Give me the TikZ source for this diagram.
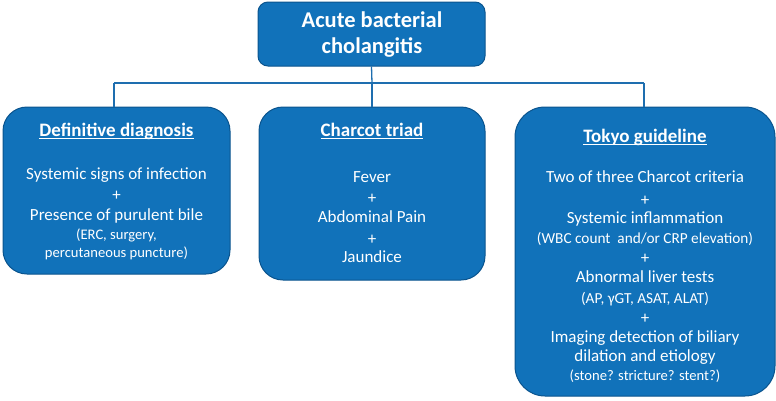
\documentclass[tikz,border=0pt]{standalone}
\usepackage{fontspec}
\setmainfont{Carlito}
\definecolor{boxblue}{RGB}{17,114,186}
\definecolor{edgeblue}{RGB}{10,84,142}
\definecolor{lineblue}{RGB}{30,110,175}
\newcommand\myul[1]{\setbox0\hbox{#1}\rlap{\rule[-2.6pt]{\wd0}{0.9pt}}\box0}
\begin{document}
\begin{tikzpicture}[x=1pt,y=-1pt,
  box/.style={draw=edgeblue,line width=1pt,fill=boxblue,inner sep=0pt,rectangle},
  conn/.style={draw=lineblue,line width=1.3pt},
  txt/.style={anchor=base,text=white,inner sep=0pt,font=\fontsize{17}{20}\selectfont},
  plus/.style={txt,text height=6pt,text depth=0pt},
  head/.style={txt,font=\fontsize{19}{22}\selectfont\bfseries},
  small/.style={txt,font=\fontsize{14.6}{17}\selectfont},
  mid/.style={txt,font=\fontsize{15.3}{18}\selectfont},
  ttl/.style={txt,font=\fontsize{22.5}{26}\selectfont\bfseries}]
\useasboundingbox (0,0) rectangle (776,400);
% boxes
\node[box,rounded corners=10pt,minimum width=227pt,minimum height=64pt] (top) at (371.5,34) {};
\node[box,rounded corners=24pt,minimum width=227pt,minimum height=167pt] (left) at (116.5,190.5) {};
\node[box,rounded corners=24pt,minimum width=226pt,minimum height=173pt] (middle) at (372,193.5) {};
\node[box,rounded corners=30pt,minimum width=260pt,minimum height=289pt] (right) at (645,251.5) {};
% connectors
\coordinate (j) at (372,83);
\coordinate (jl) at (114,83);
\coordinate (jr) at (644,83);
\draw[conn] (top.south) -- (j);
\draw[conn] (jl) -- (jr);
\draw[conn] (jl) -- (jl |- left.north);
\draw[conn] (jr) -- (jr |- right.north);
\draw[conn] (j) -- (middle.north);
% top text
\node[ttl] (t1) at (372,27) {Acute bacterial};
\node[ttl] (t2) at (372,53) {cholangitis};
% left text
\node[head] (a0) at (116.5,136) {\myul{Definitive diagnosis}};
\node[txt] (a1) at (116.5,179) {Systemic signs of infection};
\node[plus] (a2) at (116.5,200) {+};
\node[txt] (a3) at (116.5,220) {Presence of purulent bile};
\node[small] (a4) at (116.5,239) {(ERC, surgery,};
\node[small] (a5) at (116.5,257) {percutaneous puncture)};
% middle text
\node[head] (b0) at (372,136) {\myul{Charcot triad}};
\node[txt] (b1) at (372,182) {Fever};
\node[plus] (b2) at (372,203) {+};
\node[txt] (b3) at (372,222) {Abdominal Pain};
\node[plus] (b4) at (372,244) {+};
\node[txt] (b5) at (372,262) {Jaundice};
% right text
\node[head] (c0) at (645,142) {\myul{Tokyo guideline}};
\node[txt] (c1) at (645,182) {Two of three Charcot criteria};
\node[plus] (c2) at (645,205) {+};
\node[txt] (c3) at (645,223) {Systemic inflammation};
\node[mid] (c4) at (645,243) {(WBC count\ \ and/or CRP elevation)};
\node[plus] (c5) at (645,263) {+};
\node[txt] (c6) at (645,282) {Abnormal liver tests};
\node[mid] (c7) at (645,303) {(AP, γGT, ASAT, ALAT)};
\node[plus] (c8) at (645,323) {+};
\node[txt] (c9) at (645,342) {Imaging detection of biliary};
\node[txt] (c10) at (645,361) {dilation and etiology};
\node[small] (c11) at (645,380) {(stone? stricture? stent?)};
\end{tikzpicture}
\end{document}
